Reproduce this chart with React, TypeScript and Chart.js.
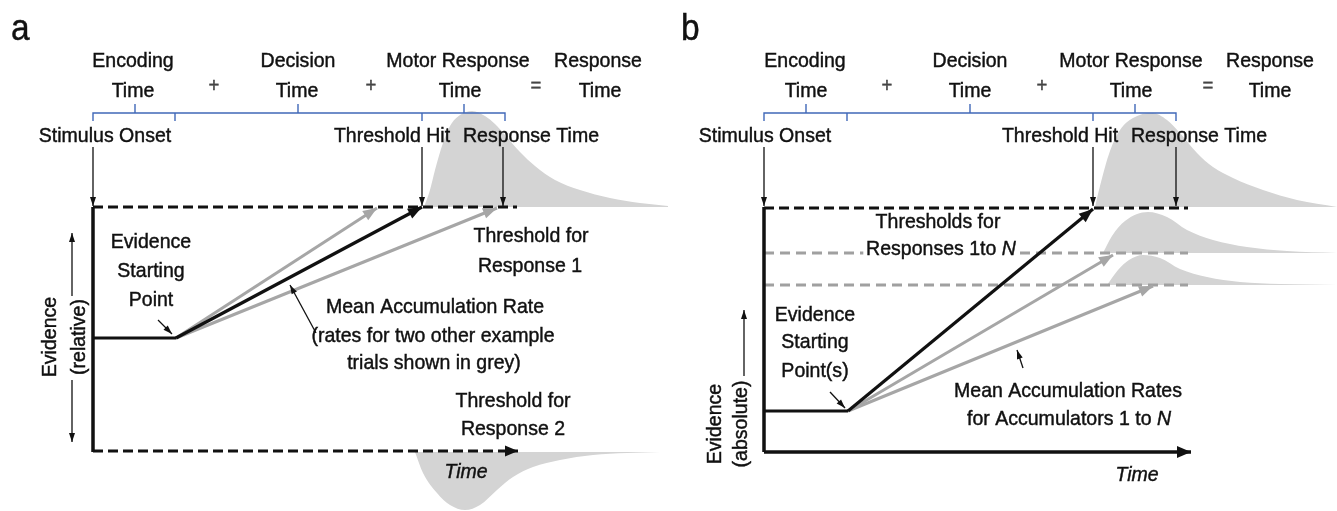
import React, { useEffect, useRef } from 'react';
import { Chart, registerables } from 'chart.js';
Chart.register(...registerables);

type P = { x: number; y: number };

// ---------- Panel a (diagram units: x = time, y = evidence position, top-down) ----------
const aAxis: P[] = [{ x: 93, y: 207 }, { x: 93, y: 452 }];
const aUpperThreshold: P[] = [{ x: 93, y: 207 }, { x: 517, y: 207 }];
const aLowerThreshold: P[] = [{ x: 93, y: 451 }, { x: 518, y: 451 }];
const aStartLevel: P[] = [{ x: 93, y: 338 }, { x: 176, y: 338 }];
const aMeanRate: P[] = [{ x: 176, y: 338 }, { x: 422, y: 207 }];
const aGreyFast: P[] = [{ x: 176, y: 338 }, { x: 377, y: 208 }];
const aGreySlow: P[] = [{ x: 176, y: 338 }, { x: 497, y: 208 }];
const aEventTimes = [93, 422, 503];
const aBracketEdges = [93, 175, 422, 505];
const aBracketMids = [135, 298, 464];
const aEvidenceUp: P[] = [{ x: 72, y: 296 }, { x: 72, y: 233 }];
const aEvidenceDown: P[] = [{ x: 72, y: 380 }, { x: 72, y: 442 }];
const aStartPointer: P[] = [{ x: 158, y: 320 }, { x: 172, y: 334 }];
const aRatePointer: P[] = [{ x: 316, y: 333 }, { x: 290, y: 285 }];
const aRtCorrect: P[] = [
  { x: 424, y: 207 }, { x: 430, y: 190 }, { x: 435, y: 170 }, { x: 443, y: 143 }, { x: 450, y: 126 },
  { x: 460, y: 115 }, { x: 472, y: 111 }, { x: 485, y: 116 }, { x: 495, y: 124 }, { x: 505, y: 135 },
  { x: 520, y: 152 }, { x: 535, y: 166 }, { x: 555, y: 180 }, { x: 580, y: 190 }, { x: 610, y: 198 },
  { x: 640, y: 203 }, { x: 668, y: 206 },
];
const aRtError: P[] = [
  { x: 415, y: 452 }, { x: 423, y: 473 }, { x: 437, y: 493 }, { x: 450, y: 505 }, { x: 465, y: 510 },
  { x: 480, y: 505 }, { x: 497, y: 490 }, { x: 513, y: 477 }, { x: 533, y: 467 }, { x: 560, y: 460 },
  { x: 593, y: 455 }, { x: 627, y: 453 }, { x: 660, y: 452 },
];

// ---------- Panel b ----------
const bAxis: P[] = [{ x: 764, y: 207 }, { x: 764, y: 452 }];
const bTimeAxis: P[] = [{ x: 764, y: 452 }, { x: 1191, y: 452 }];
const bThreshold1: P[] = [{ x: 764, y: 208 }, { x: 1188, y: 208 }];
const bThreshold2: P[] = [{ x: 764, y: 253 }, { x: 1188, y: 253 }];
const bThreshold3: P[] = [{ x: 764, y: 285 }, { x: 1188, y: 285 }];
const bStartLevel: P[] = [{ x: 764, y: 411 }, { x: 848, y: 411 }];
const bRate1: P[] = [{ x: 848, y: 411 }, { x: 1093, y: 209 }];
const bRate2: P[] = [{ x: 848, y: 411 }, { x: 1113, y: 255 }];
const bRate3: P[] = [{ x: 848, y: 411 }, { x: 1153, y: 286 }];
const bEventTimes = [764, 1093, 1176];
const bBracketEdges = [764, 847, 1093, 1176];
const bBracketMids = [806, 970, 1135];
const bEvidenceUp: P[] = [{ x: 744, y: 376 }, { x: 744, y: 310 }];
const bStartPointer: P[] = [{ x: 830, y: 392 }, { x: 845, y: 408 }];
const bRatePointer: P[] = [{ x: 1023, y: 368 }, { x: 1017, y: 350 }];
const bRt1: P[] = [
  { x: 1095, y: 207 }, { x: 1100, y: 186 }, { x: 1110, y: 151 }, { x: 1120, y: 130 }, { x: 1133, y: 118 },
  { x: 1152, y: 113 }, { x: 1167, y: 120 }, { x: 1180, y: 133 }, { x: 1197, y: 153 }, { x: 1213, y: 167 },
  { x: 1233, y: 178 }, { x: 1263, y: 190 }, { x: 1297, y: 200 }, { x: 1337, y: 207 },
];
const bRt2: P[] = [
  { x: 1103, y: 253 }, { x: 1112, y: 236 }, { x: 1125, y: 221 }, { x: 1148, y: 212 }, { x: 1167, y: 217 },
  { x: 1187, y: 230 }, { x: 1213, y: 240 }, { x: 1247, y: 247 }, { x: 1287, y: 251 }, { x: 1337, y: 253 },
];
const bRt3: P[] = [
  { x: 1107, y: 285 }, { x: 1118, y: 270 }, { x: 1129, y: 260 }, { x: 1143, y: 255 }, { x: 1160, y: 258 },
  { x: 1180, y: 269 }, { x: 1207, y: 277 }, { x: 1240, y: 282 }, { x: 1280, y: 284 }, { x: 1337, y: 285 },
];

// ---------- Text ----------
const stageWords = ['Encoding', 'Decision', 'Motor Response', 'Response'];
const operators = ['+', '+', '='];
type Label = {
  text?: string; parts?: { t: string; italic?: boolean }[]; x: number; y: number;
  size?: number; italic?: boolean; rot?: number; align?: 'left' | 'center'; bg?: boolean; mid?: boolean; color?: string;
};

const aLabels: Label[] = [
  { text: 'a', x: 11, y: 40, size: 36, align: 'left' },
  { text: stageWords[0], x: 133, y: 67 }, { text: 'Time', x: 133, y: 97 },
  { text: operators[0], x: 214, y: 92, size: 20, color: '#444' },
  { text: stageWords[1], x: 298, y: 67 }, { text: 'Time', x: 297, y: 97 },
  { text: operators[1], x: 371, y: 92, size: 20, color: '#444' },
  { text: stageWords[2], x: 458, y: 67 }, { text: 'Time', x: 460, y: 97 },
  { text: operators[2], x: 536, y: 92, size: 20, color: '#444' },
  { text: stageWords[3], x: 598, y: 67 }, { text: 'Time', x: 600, y: 97 },
  { text: 'Stimulus Onset', x: 105, y: 142 },
  { text: 'Threshold Hit', x: 392, y: 142 },
  { text: 'Response Time', x: 531, y: 142 },
  { text: 'Evidence', x: 151, y: 248 }, { text: 'Starting', x: 151, y: 277 }, { text: 'Point', x: 151, y: 306 },
  { text: 'Threshold for', x: 531, y: 242 }, { text: 'Response 1', x: 530, y: 272 },
  { text: 'Mean Accumulation Rate', x: 435, y: 313 },
  { text: '(rates for two other example', x: 433, y: 342 },
  { text: 'trials shown in grey)', x: 434, y: 369 },
  { text: 'Threshold for', x: 513, y: 407 }, { text: 'Response 2', x: 513, y: 435 },
  { text: 'Time', x: 466, y: 478, italic: true },
  { text: 'Evidence', x: 50, y: 337, rot: -90, mid: true },
  { text: '(relative)', x: 79, y: 337, rot: -90, mid: true },
];

const bLabels: Label[] = [
  { text: 'b', x: 681, y: 40, size: 36, align: 'left' },
  { text: stageWords[0], x: 805, y: 67 }, { text: 'Time', x: 806, y: 97 },
  { text: operators[0], x: 887, y: 92, size: 20, color: '#444' },
  { text: stageWords[1], x: 970, y: 67 }, { text: 'Time', x: 970, y: 97 },
  { text: operators[1], x: 1042, y: 92, size: 20, color: '#444' },
  { text: stageWords[2], x: 1131, y: 67 }, { text: 'Time', x: 1131, y: 97 },
  { text: operators[2], x: 1208, y: 92, size: 20, color: '#444' },
  { text: stageWords[3], x: 1270, y: 67 }, { text: 'Time', x: 1270, y: 97 },
  { text: 'Stimulus Onset', x: 765, y: 142 },
  { text: 'Threshold Hit', x: 1060, y: 142 },
  { text: 'Response Time', x: 1199, y: 142 },
  { text: 'Thresholds for', x: 938, y: 228 },
  { parts: [{ t: 'Responses 1to ' }, { t: 'N', italic: true }], x: 941, y: 255, bg: true },
  { text: 'Evidence', x: 815, y: 321 }, { text: 'Starting', x: 815, y: 348 }, { text: 'Point(s)', x: 815, y: 377 },
  { text: 'Mean Accumulation Rates', x: 1068, y: 397 },
  { parts: [{ t: 'for Accumulators 1 to ' }, { t: 'N', italic: true }], x: 1069, y: 425 },
  { text: 'Time', x: 1137, y: 481, italic: true },
  { text: 'Evidence', x: 715, y: 424, rot: -90, mid: true },
  { text: '(absolute)', x: 741, y: 424, rot: -90, mid: true },
];

const FONT = '"Liberation Sans", Arial, sans-serif';
const H_SCALE = 0.93;
const BLACK = '#111';
const GREY_LINE = '#a6a6a6';
const GREY_DASH = '#a0a0a0';
const FILL = '#d4d4d4';
const BLUE = '#4068b8';

function bracket(edges: number[], mids: number[]): P[] {
  const top = 113, low = 121, peak = 104;
  const pts: P[] = [{ x: edges[0], y: low }, { x: edges[0], y: top }];
  for (let i = 0; i < mids.length; i++) {
    pts.push({ x: mids[i], y: top }, { x: mids[i], y: peak }, { x: mids[i], y: top });
    pts.push({ x: edges[i + 1], y: top }, { x: edges[i + 1], y: low }, { x: edges[i + 1], y: top });
  }
  return pts;
}

function seg(data: P[], color: string, width: number, extra: any = {}) {
  return {
    data, borderColor: color, backgroundColor: color, borderWidth: width, showLine: true,
    pointRadius: 0, fill: false, tension: 0, clip: false, borderCapStyle: 'butt', order: 1, ...extra,
  };
}
function dist(data: P[], base: number) {
  return {
    data, borderColor: FILL, backgroundColor: FILL, borderWidth: 0, showLine: true, pointRadius: 0,
    fill: { value: base }, cubicInterpolationMode: 'monotone', clip: false, order: 10,
  };
}
const thick = { len: 14, width: 11 };
const thin = { len: 9, width: 6 };

function eventArrows(times: number[]) {
  return times.map((t) => seg([{ x: t, y: 147 }, { x: t, y: 206 }], BLACK, 1.3, { arrow: thin }));
}

const aDatasets = [
  ...eventArrows(aEventTimes),
  seg(aEvidenceUp, BLACK, 1.3, { arrow: thin }),
  seg(aEvidenceDown, BLACK, 1.3, { arrow: thin }),
  seg(aStartPointer, BLACK, 1.3, { arrow: thin }),
  seg(aRatePointer, BLACK, 1.3, { arrow: thin }),
  seg(bracket(aBracketEdges, aBracketMids), BLUE, 1.4),
  seg(aMeanRate, BLACK, 3.2, { arrow: thick }),
  seg(aGreyFast, GREY_LINE, 3, { arrow: thick, order: 2 }),
  seg(aGreySlow, GREY_LINE, 3, { arrow: thick, order: 2 }),
  seg(aAxis, BLACK, 3.5),
  seg(aStartLevel, BLACK, 3),
  seg(aUpperThreshold, BLACK, 3, { borderDash: [10, 5] }),
  seg(aLowerThreshold, BLACK, 3, { borderDash: [10, 5], arrow: { len: 13, width: 11 } }),
  dist(aRtCorrect, 207),
  dist(aRtError, 452),
];

const bDatasets = [
  ...eventArrows(bEventTimes),
  seg(bEvidenceUp, BLACK, 1.3, { arrow: thin }),
  seg(bStartPointer, BLACK, 1.3, { arrow: thin }),
  seg(bRatePointer, BLACK, 1.3, { arrow: thin }),
  seg(bracket(bBracketEdges, bBracketMids), BLUE, 1.4),
  seg(bRate1, BLACK, 3.2, { arrow: thick }),
  seg(bRate2, GREY_LINE, 3, { arrow: thick, order: 2 }),
  seg(bRate3, GREY_LINE, 3, { arrow: thick, order: 2 }),
  seg(bAxis, BLACK, 3.5),
  seg(bTimeAxis, BLACK, 3.5, { arrow: { len: 14, width: 12 } }),
  seg(bStartLevel, BLACK, 3),
  seg(bThreshold1, BLACK, 3, { borderDash: [10, 5] }),
  seg(bThreshold2, GREY_DASH, 3, { borderDash: [10, 6], order: 3 }),
  seg(bThreshold3, GREY_DASH, 3, { borderDash: [10, 6], order: 3 }),
  dist(bRt1, 207),
  dist(bRt2, 253),
  dist(bRt3, 285),
];

const arrowPlugin = {
  id: 'arrowHeads',
  afterDatasetsDraw(chart: any) {
    const ctx = chart.ctx;
    chart.data.datasets.forEach((ds: any, i: number) => {
      if (!ds.arrow) return;
      const pts = chart.getDatasetMeta(i).data;
      const p1 = pts[pts.length - 2], p2 = pts[pts.length - 1];
      const a = Math.atan2(p2.y - p1.y, p2.x - p1.x);
      const c = Math.cos(a), s = Math.sin(a);
      const { len, width } = ds.arrow;
      const bx = p2.x - len * c, by = p2.y - len * s;
      ctx.save();
      ctx.fillStyle = ds.borderColor;
      ctx.beginPath();
      ctx.moveTo(p2.x, p2.y);
      ctx.lineTo(bx + (width / 2) * s, by - (width / 2) * c);
      ctx.lineTo(bx - (width / 2) * s, by + (width / 2) * c);
      ctx.closePath();
      ctx.fill();
      ctx.restore();
    });
  },
};

function labelPlugin(items: Label[]) {
  return {
    id: 'diagramLabels',
    afterDatasetsDraw(chart: any) {
      const ctx = chart.ctx;
      const xs = chart.scales.x, ys = chart.scales.y;
      for (const l of items) {
        const size = l.size || 21;
        const parts = l.parts || [{ t: l.text || '', italic: l.italic }];
        const px = xs.getPixelForValue(l.x), py = ys.getPixelForValue(l.y);
        ctx.save();
        ctx.translate(px, py);
        if (l.rot) ctx.rotate((l.rot * Math.PI) / 180);
        ctx.scale(H_SCALE, 1);
        ctx.textBaseline = l.mid ? 'middle' : 'alphabetic';
        ctx.textAlign = 'left';
        const widths = parts.map((p) => {
          ctx.font = `${p.italic ? 'italic ' : ''}${size}px ${FONT}`;
          return ctx.measureText(p.t).width;
        });
        const total = widths.reduce((s, w) => s + w, 0);
        let x0 = l.align === 'left' ? 0 : -total / 2;
        if (l.bg) {
          ctx.fillStyle = '#fff';
          ctx.fillRect(x0 - 3, -size * 0.78, total + 6, size * 0.98);
        }
        ctx.fillStyle = l.color || BLACK;
        ctx.strokeStyle = l.color || BLACK;
        ctx.lineWidth = 0.45;
        parts.forEach((p, k) => {
          ctx.font = `${p.italic ? 'italic ' : ''}${size}px ${FONT}`;
          ctx.fillText(p.t, x0, 0);
          ctx.strokeText(p.t, x0, 0);
          x0 += widths[k];
        });
        ctx.restore();
      }
    },
  };
}

function Panel({ datasets, labels, xMin, xMax }: { datasets: any[]; labels: Label[]; xMin: number; xMax: number }) {
  const ref = useRef<HTMLCanvasElement | null>(null);
  useEffect(() => {
    if (!ref.current) return;
    const chart = new Chart(ref.current, {
      type: 'scatter',
      data: { datasets: datasets as any },
      options: {
        animation: false,
        responsive: true,
        maintainAspectRatio: false,
        events: [],
        layout: { padding: 0 },
        plugins: { legend: { display: false }, tooltip: { enabled: false } },
        scales: {
          x: { type: 'linear', min: xMin, max: xMax, display: false },
          y: { type: 'linear', min: 0, max: 511, reverse: true, display: false },
        },
      },
      plugins: [arrowPlugin, labelPlugin(labels)],
    });
    return () => chart.destroy();
  }, []);
  return (
    <div style={{ position: 'relative', width: xMax - xMin, height: 511 }}>
      <canvas ref={ref} />
    </div>
  );
}

export default function App() {
  return (
    <div style={{ position: 'fixed', left: 0, top: 0, width: 1337, height: 511, display: 'flex', background: '#fff' }}>
      <Panel datasets={aDatasets} labels={aLabels} xMin={0} xMax={669} />
      <Panel datasets={bDatasets} labels={bLabels} xMin={669} xMax={1337} />
    </div>
  );
}
